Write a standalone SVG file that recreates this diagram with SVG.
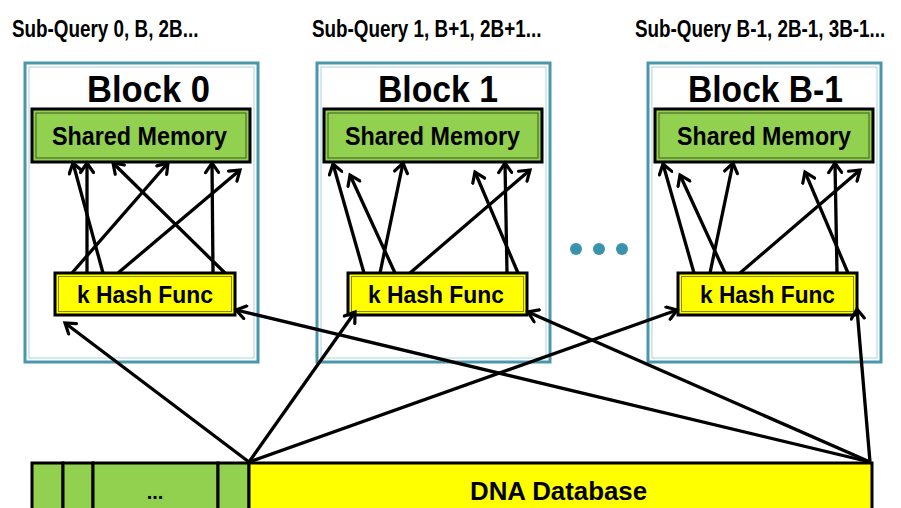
<svg xmlns="http://www.w3.org/2000/svg" width="901" height="508" viewBox="0 0 901 508">
<defs>
<marker id="ah" markerWidth="16" markerHeight="16" refX="12" refY="8" orient="auto" markerUnits="userSpaceOnUse" viewBox="0 0 16 16">
<path d="M2.5,1.5 L12,8 L2.5,14.5" fill="none" stroke="#000" stroke-width="3.2" stroke-linecap="round" stroke-linejoin="miter"/>
</marker>
<style>
.t{font-family:"Liberation Sans",Arial,sans-serif;font-weight:bold;fill:#000}
.blk{fill:#fff;stroke:#4a97ab;stroke-width:3}
.blki{fill:none;stroke:#a9d2de;stroke-width:1}
.sm{fill:#92d050;stroke:#000;stroke-width:3}
.smi{fill:none;stroke:#3d5a1f;stroke-width:1}
.kh{fill:#ffff00;stroke:#000;stroke-width:3}
.khi{fill:none;stroke:#8a8a00;stroke-width:1}
.c line{stroke:#000;stroke-width:3.3;marker-end:url(#ah)}
.dot{fill:#3a93ad}
</style>
</defs>
<rect width="901" height="508" fill="#fff"/>

<g id="labels">
<text class="t" transform="translate(12,37) scale(0.82,1)" font-size="23">Sub-Query 0, B, 2B...</text>
<text class="t" transform="translate(312,37) scale(0.82,1)" font-size="23">Sub-Query 1, B+1, 2B+1...</text>
<text class="t" transform="translate(635,37) scale(0.82,1)" font-size="23">Sub-Query B-1, 2B-1, 3B-1...</text>
</g>

<g id="block0">
<rect class="blk" x="25" y="63" width="233" height="299"/>
<rect class="blki" x="29" y="67" width="225" height="291"/>
<text class="t" x="87" y="102" font-size="37" textLength="123" lengthAdjust="spacingAndGlyphs">Block 0</text>
</g>
<g id="block1">
<rect class="blk" x="317" y="63" width="233" height="299"/>
<rect class="blki" x="321" y="67" width="225" height="291"/>
<text class="t" x="378" y="102" font-size="37" textLength="120" lengthAdjust="spacingAndGlyphs">Block 1</text>
</g>
<g id="blockB-1">
<rect class="blk" x="648" y="63" width="233" height="299"/>
<rect class="blki" x="652" y="67" width="225" height="291"/>
<text class="t" x="688" y="102" font-size="37" textLength="155" lengthAdjust="spacingAndGlyphs">Block B-1</text>
</g>

<g id="shm0">
<rect class="sm" x="32" y="109" width="218" height="53"/>
<rect class="smi" x="36" y="113" width="210" height="45"/>
<text class="t" x="52" y="145" font-size="25" textLength="175" lengthAdjust="spacingAndGlyphs">Shared Memory</text>
</g>
<g id="shm1">
<rect class="sm" x="324" y="109" width="218" height="53"/>
<rect class="smi" x="328" y="113" width="210" height="45"/>
<text class="t" x="345" y="145" font-size="25" textLength="175" lengthAdjust="spacingAndGlyphs">Shared Memory</text>
</g>
<g id="shmB-1">
<rect class="sm" x="655" y="109" width="218" height="53"/>
<rect class="smi" x="659" y="113" width="210" height="45"/>
<text class="t" x="677" y="145" font-size="25" textLength="174" lengthAdjust="spacingAndGlyphs">Shared Memory</text>
</g>

<g id="hash0">
<rect class="kh" x="55" y="273" width="180" height="42"/>
<rect class="khi" x="58.5" y="276.5" width="173" height="35"/>
<text class="t" x="77" y="303" font-size="24" textLength="136" lengthAdjust="spacingAndGlyphs">k Hash Func</text>
</g>
<g id="hash1">
<rect class="kh" x="348" y="273" width="179" height="42"/>
<rect class="khi" x="351.5" y="276.5" width="172" height="35"/>
<text class="t" x="368" y="303" font-size="24" textLength="136" lengthAdjust="spacingAndGlyphs">k Hash Func</text>
</g>
<g id="hashB-1">
<rect class="kh" x="678" y="273" width="179" height="42"/>
<rect class="khi" x="681.5" y="276.5" width="172" height="35"/>
<text class="t" x="700" y="303" font-size="24" textLength="135" lengthAdjust="spacingAndGlyphs">k Hash Func</text>
</g>

<g id="ellipsis">
<circle class="dot" cx="576" cy="249" r="6"/>
<circle class="dot" cx="599" cy="249" r="6"/>
<circle class="dot" cx="622" cy="249" r="6"/>
</g>

<g id="dna">
<rect x="32" y="463" width="31" height="50" fill="#92d050" stroke="#000" stroke-width="3"/>
<rect x="63" y="463" width="30" height="50" fill="#92d050" stroke="#000" stroke-width="3"/>
<rect x="93" y="463" width="125" height="50" fill="#92d050" stroke="#000" stroke-width="3"/>
<rect x="218" y="463" width="31" height="50" fill="#92d050" stroke="#000" stroke-width="3"/>
<rect x="249" y="463" width="623" height="50" fill="#ffff00" stroke="#000" stroke-width="3"/>
<text class="t" x="155" y="499" font-size="20" text-anchor="middle">...</text>
<text class="t" x="470" y="500" font-size="25" textLength="177" lengthAdjust="spacingAndGlyphs">DNA Database</text>
</g>

<g id="connectors" class="c">
<line x1="72" y1="273" x2="168" y2="163"/>
<line x1="87" y1="273" x2="87" y2="163"/>
<line x1="103" y1="273" x2="73" y2="163"/>
<line x1="118" y1="273" x2="240" y2="170"/>
<line x1="213" y1="273" x2="212" y2="163"/>
<line x1="225" y1="273" x2="113" y2="163"/>

<line x1="364" y1="273" x2="333" y2="164"/>
<line x1="380" y1="273" x2="403" y2="163"/>
<line x1="395" y1="273" x2="350" y2="175"/>
<line x1="410" y1="273" x2="530" y2="170"/>
<line x1="507" y1="273" x2="505" y2="163"/>
<line x1="518" y1="273" x2="475" y2="172"/>

<line x1="694" y1="273" x2="663" y2="164"/>
<line x1="710" y1="273" x2="733" y2="163"/>
<line x1="725" y1="273" x2="680" y2="175"/>
<line x1="740" y1="273" x2="860" y2="170"/>
<line x1="837" y1="273" x2="835" y2="163"/>
<line x1="848" y1="273" x2="805" y2="172"/>

<line x1="249" y1="462" x2="65" y2="323"/>
<line x1="249" y1="462" x2="355" y2="312"/>
<line x1="249" y1="462" x2="677" y2="310"/>
<line x1="870" y1="462" x2="236" y2="310"/>
<line x1="870" y1="462" x2="528" y2="312"/>
<line x1="870" y1="462" x2="857" y2="309"/>
</g>
</svg>
